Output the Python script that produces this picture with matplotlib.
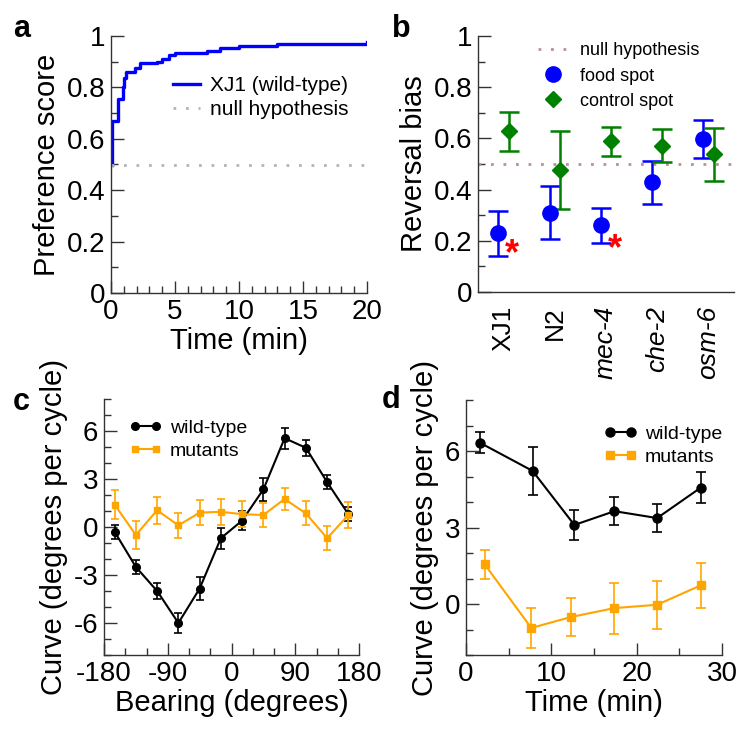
import matplotlib
matplotlib.use('Agg')
import matplotlib.pyplot as plt
from matplotlib.lines import Line2D
from matplotlib.ticker import MultipleLocator

plt.rcParams['font.family'] = ['Liberation Sans', 'DejaVu Sans']
plt.rcParams['axes.unicode_minus'] = False

# ---- panel a: preference score over time (step curve)
a_time = [0.1, 0.1, 0.57, 0.91, 0.99, 1.15, 1.85, 2.3, 3.6, 4.0, 4.5, 5.0, 7.5, 8.5, 10.0, 13.0, 20.0]
a_score = [0.5, 0.67, 0.754, 0.80, 0.837, 0.86, 0.876, 0.893, 0.90, 0.91, 0.925, 0.932, 0.94, 0.955, 0.96, 0.97, 0.975]
a_null = 0.5

# ---- panel b: reversal bias
b_strains = ['XJ1', 'N2', 'mec-4', 'che-2', 'osm-6']
b_italic = [False, False, True, True, True]
b_food = [0.23, 0.31, 0.26, 0.428, 0.597]
b_food_hi = [0.315, 0.415, 0.33, 0.51, 0.672]
b_food_lo = [0.142, 0.207, 0.19, 0.343, 0.523]
b_ctrl = [0.629, 0.477, 0.59, 0.572, 0.538]
b_ctrl_hi = [0.705, 0.63, 0.646, 0.637, 0.64]
b_ctrl_lo = [0.551, 0.324, 0.533, 0.507, 0.432]
b_star_idx = [0, 2]
b_star_y = [0.146, 0.165]
b_null = 0.5

# ---- panel c: curve vs bearing
c_bearing = [-165, -135, -105, -75, -45, -15, 15, 45, 75, 105, 135, 165]
c_wt = [-0.3, -2.5, -4.0, -6.0, -3.85, -0.7, 0.4, 2.35, 5.55, 4.95, 2.8, 0.8]
c_wt_err = [0.45, 0.45, 0.5, 0.6, 0.7, 0.65, 0.6, 0.7, 0.65, 0.5, 0.45, 0.45]
c_mut = [1.4, -0.5, 1.05, 0.1, 0.9, 0.95, 0.8, 0.75, 1.75, 0.85, -0.7, 0.75]
c_mut_err = [0.9, 0.85, 0.85, 0.8, 0.8, 0.8, 0.8, 0.75, 0.7, 0.75, 0.75, 0.8]

# ---- panel d: curve vs time
d_t_wt = [1.6, 7.8, 12.7, 17.4, 22.4, 27.5]
d_wt = [6.33, 5.22, 3.1, 3.64, 3.37, 4.56]
d_wt_err = [0.4, 0.95, 0.6, 0.55, 0.55, 0.6]
d_t_mut = [2.2, 7.65, 12.3, 17.4, 22.4, 27.5]
d_mut = [1.55, -0.94, -0.51, -0.16, -0.03, 0.73]
d_mut_err = [0.56, 0.8, 0.75, 1.0, 0.95, 0.88]

W, H = 749, 730
fig = plt.figure(figsize=(W / 100, H / 100), dpi=100)
ORANGE = '#ffa500'

def box(l, t, r, b):
    return [l / W, 1 - b / H, (r - l) / W, (b - t) / H]

def style(ax):
    ax.spines['top'].set_visible(False)
    ax.spines['right'].set_visible(False)
    for s in ('left', 'bottom'):
        ax.spines[s].set_color('#333333')
        ax.spines[s].set_linewidth(1.0)
    ax.tick_params(which='both', direction='in', color='#333333', labelsize=20, width=1.0)
    ax.tick_params(which='major', length=9, pad=4)
    ax.tick_params(which='minor', length=5)

LAB = 21

# panel a
ax = fig.add_axes(box(111, 36, 367, 293))
style(ax)
ax.plot(a_time, a_score, color='#0000ff', lw=2.4, drawstyle='steps-post', label='XJ1 (wild-type)')
ax.axhline(a_null, color='#b4b4b4', lw=2, ls=(0, (1, 3.5)), label='null hypothesis')
ax.set_xlim(0, 20)
ax.set_ylim(0, 1)
ax.xaxis.set_major_locator(MultipleLocator(5))
ax.xaxis.set_minor_locator(MultipleLocator(1))
ax.set_yticks([0, 0.2, 0.4, 0.6, 0.8, 1.0])
ax.set_yticklabels(['0', '0.2', '0.4', '0.6', '0.8', '1'])
ax.yaxis.set_minor_locator(MultipleLocator(0.1))
ax.set_xlabel('Time (min)', fontsize=LAB, labelpad=2)
ax.set_ylabel('Preference score', fontsize=LAB, labelpad=4)
ax.legend(loc='upper left', bbox_to_anchor=(0.2, 0.885), frameon=False, fontsize=15,
          handlelength=1.3, handletextpad=0.5, labelspacing=0.25, borderpad=0)
fig.text(13 / W, 1 - 37 / H, 'a', fontsize=22, fontweight='bold')

# panel b
ax = fig.add_axes(box(478, 36, 734, 292))
style(ax)
xs = list(range(1, len(b_strains) + 1))
ax.axhline(b_null, color='#bc9090', lw=2, ls=(0, (1, 3.5)))
xf = [x - 0.1 for x in xs]
xc = [x + 0.1 for x in xs]
ax.errorbar(xf, b_food, yerr=[[m - l for m, l in zip(b_food, b_food_lo)], [h - m for m, h in zip(b_food, b_food_hi)]],
            fmt='o', color='#0000ff', ms=11, capsize=7, elinewidth=1.8, capthick=1.8)
ax.errorbar(xc, b_ctrl, yerr=[[m - l for m, l in zip(b_ctrl, b_ctrl_lo)], [h - m for m, h in zip(b_ctrl, b_ctrl_hi)]],
            fmt='D', color='#008000', ms=8, capsize=7, elinewidth=1.8, capthick=1.8)
for i, y in zip(b_star_idx, b_star_y):
    ax.text(xs[i] + 0.165, y, '*', color='red', fontsize=26, ha='center', va='center', fontweight='bold')
ax.set_xlim(0.5, len(b_strains) + 0.5)
ax.set_ylim(0, 1)
ax.set_xticks(xs)
ax.set_xticklabels(b_strains, rotation=90, fontsize=19)
for lab, it in zip(ax.get_xticklabels(), b_italic):
    if it:
        lab.set_style('italic')
ax.tick_params(axis='x', length=0, pad=10)
ax.set_yticks([0, 0.2, 0.4, 0.6, 0.8, 1.0])
ax.set_yticklabels(['0', '0.2', '0.4', '0.6', '0.8', '1'])
ax.yaxis.set_minor_locator(MultipleLocator(0.1))
ax.set_ylabel('Reversal bias', fontsize=LAB, labelpad=4)
hb = [Line2D([], [], color='#bc9090', lw=2, ls=(0, (1, 3.5))),
      Line2D([], [], color='#0000ff', marker='o', ms=11, ls='none'),
      Line2D([], [], color='#008000', marker='D', ms=8, ls='none')]
ax.legend(hb, ['null hypothesis', 'food spot', 'control spot'], loc='upper left',
          bbox_to_anchor=(0.2, 1.01), frameon=False, fontsize=13, numpoints=1,
          handlelength=1.6, handletextpad=0.7, labelspacing=0.45, borderpad=0)
fig.text(392 / W, 1 - 37 / H, 'b', fontsize=22, fontweight='bold')

# panel c
ax = fig.add_axes(box(104, 399, 359, 655))
style(ax)
ax.errorbar(c_bearing, c_wt, yerr=c_wt_err, color='black', marker='o', ms=5.5, lw=1.5,
            capsize=3, elinewidth=1.2, capthick=1.2)
ax.errorbar(c_bearing, c_mut, yerr=c_mut_err, color=ORANGE, marker='s', ms=5, lw=1.5,
            capsize=3, elinewidth=1.2, capthick=1.2)
ax.set_xlim(-180, 180)
ax.set_ylim(-8, 8)
ax.set_xticks([-180, -90, 0, 90, 180])
ax.xaxis.set_minor_locator(MultipleLocator(30))
ax.set_yticks([-6, -3, 0, 3, 6])
ax.yaxis.set_minor_locator(MultipleLocator(1))
ax.set_xlabel('Bearing (degrees)', fontsize=LAB, labelpad=2)
ax.set_ylabel('Curve (degrees per cycle)', fontsize=LAB, labelpad=4)
hc = [Line2D([], [], color='black', marker='o', ms=5.5, lw=1.5),
      Line2D([], [], color=ORANGE, marker='s', ms=5, lw=1.5)]
ax.legend(hc, ['wild-type', 'mutants'], loc='upper left', bbox_to_anchor=(0.06, 0.96), frameon=False,
          fontsize=14, numpoints=2, handlelength=1.7, handletextpad=0.4, labelspacing=0.3, borderpad=0)
fig.text(13 / W, 1 - 410 / H, 'c', fontsize=22, fontweight='bold')

# panel d
ax = fig.add_axes(box(466, 400, 722, 655))
style(ax)
ax.errorbar(d_t_wt, d_wt, yerr=d_wt_err, color='black', marker='o', ms=6.5, lw=1.5,
            capsize=3.5, elinewidth=1.2, capthick=1.2)
ax.errorbar(d_t_mut, d_mut, yerr=d_mut_err, color=ORANGE, marker='s', ms=6, lw=1.5,
            capsize=3.5, elinewidth=1.2, capthick=1.2)
ax.set_xlim(0, 30)
ax.set_ylim(-2, 8)
ax.set_xticks([0, 10, 20, 30])
ax.xaxis.set_minor_locator(MultipleLocator(5))
ax.set_yticks([0, 3, 6])
ax.yaxis.set_minor_locator(MultipleLocator(1))
ax.set_xlabel('Time (min)', fontsize=LAB, labelpad=2)
ax.set_ylabel('Curve (degrees per cycle)', fontsize=LAB, labelpad=4)
hd = [Line2D([], [], color='black', marker='o', ms=6.5, lw=1.5),
      Line2D([], [], color=ORANGE, marker='s', ms=6, lw=1.5)]
ax.legend(hd, ['wild-type', 'mutants'], loc='upper left', bbox_to_anchor=(0.5, 0.94), frameon=False,
          fontsize=14, numpoints=2, handlelength=1.7, handletextpad=0.4, labelspacing=0.3, borderpad=0)
fig.text(382 / W, 1 - 408 / H, 'd', fontsize=22, fontweight='bold')

fig.savefig('out.png', dpi=100)
